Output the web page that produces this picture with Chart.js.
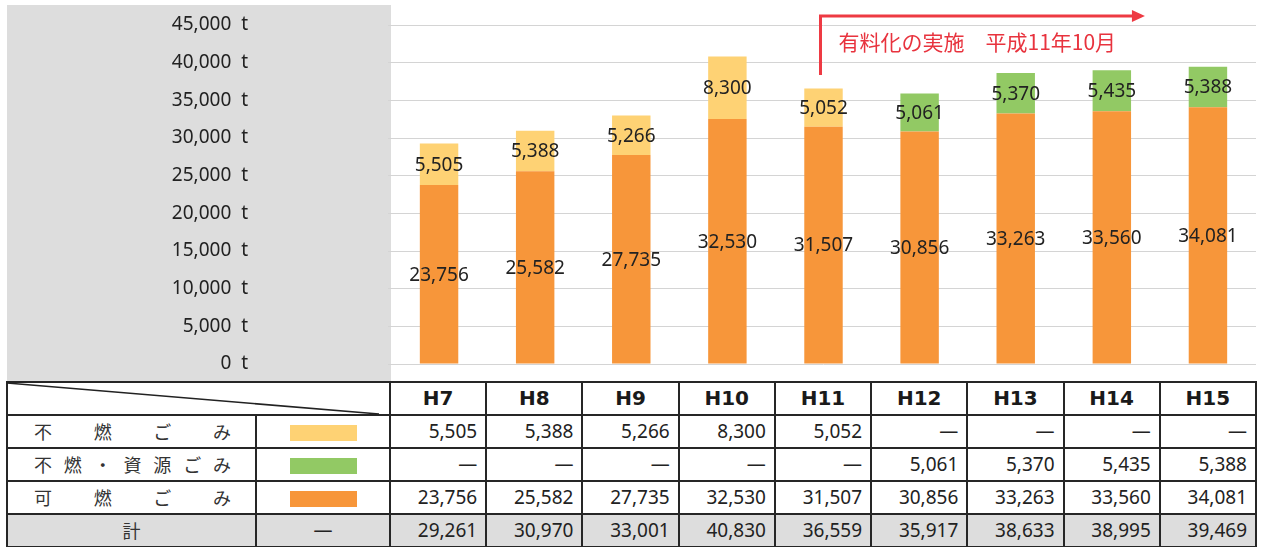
<!DOCTYPE html>
<html>
<head>
<meta charset="utf-8">
<script src="https://cdn.jsdelivr.net/npm/chart.js@4.4.1/dist/chart.umd.min.js"></script>
<style>
  html, body { margin:0; padding:0; background:#ffffff; }
  body { width:1264px; height:547px; position:relative; overflow:hidden; }
  #gray { position:absolute; left:7px; top:5px; width:384px; height:376px; background:#dddddd; }
  #c { position:absolute; left:0; top:0; }
  table { position:absolute; left:6px; top:381px; width:1251px; border-collapse:collapse; table-layout:fixed;
          font-family:'Noto Sans', sans-serif; font-size:19px; color:#222; }
  td { border:2px solid #262626; padding:0; height:31px; line-height:31px; overflow:hidden; white-space:nowrap; }
  td.num { text-align:right; padding-right:8px; }
  td.hdr { text-align:center; font-family:'DejaVu Sans', sans-serif; font-weight:bold; font-size:20px; color:#1a1a1a; }
  td.lab { font-family:'Noto Sans CJK JP', sans-serif; font-size:18px; color:#333; }
  td.lab .sp { display:flex; justify-content:space-between; padding:0 24px 0 26px; }
  td.sw { text-align:center; }
  td.sw span { display:inline-block; width:67px; height:16px; vertical-align:middle; }
  tr.total td { background:#dddddd; }
  td.ctr { text-align:center; }
  #diag { position:absolute; left:7px; top:382px; width:383px; height:33px; pointer-events:none; }
</style>
</head>
<body>
<div id="gray"></div>
<canvas id="c" width="1264" height="380"></canvas>
<table id="tbl"></table>
<svg id="diag" viewBox="0 0 383 33"><line x1="0" y1="1" x2="372" y2="32" stroke="#222" stroke-width="1.6"/></svg>
<script>
const categories = ['H7','H8','H9','H10','H11','H12','H13','H14','H15'];
const nonburnable = [5505, 5388, 5266, 8300, 5052, null, null, null, null];
const nonburnableResource = [null, null, null, null, null, 5061, 5370, 5435, 5388];
const combustible = [23756, 25582, 27735, 32530, 31507, 30856, 33263, 33560, 34081];
const totals = [29261, 30970, 33001, 40830, 36559, 35917, 38633, 38995, 39469];
const seriesLabels = ['不燃ごみ', '不燃・資源ごみ', '可燃ごみ'];
const rowLabels = ['不燃ごみ', '不燃・資源ごみ', '可燃ごみ'];
const totalLabel = '計';
const yMax = 45000;
const yStep = 5000;
const tickUnit = 't';
const annotationText = '有料化の実施　平成11年10月';
const annotationStartIndex = 4;

const colors = { nonburnable:'#fed274', resource:'#92c964', combustible:'#f7963a' };
const fmt = v => v.toLocaleString('en-US');

// Build table
const tbl = document.getElementById('tbl');
let html = '<colgroup><col style="width:249px"><col style="width:134px">' + categories.map(()=>'<col>').join('') + '</colgroup>';
html += '<tr><td colspan="2"></td>' + categories.map(c=>`<td class="hdr">${c}</td>`).join('') + '</tr>';
const rows = [[nonburnable, colors.nonburnable],[nonburnableResource, colors.resource],[combustible, colors.combustible]];
rows.forEach((r,i)=>{
  const chars = Array.from(rowLabels[i]).map(ch=>`<span>${ch}</span>`).join('');
  html += `<tr><td class="lab"><div class="sp">${chars}</div></td><td class="sw"><span style="background:${r[1]}"></span></td>` +
    r[0].map(v=>`<td class="num">${v==null?'—':fmt(v)}</td>`).join('') + '</tr>';
});
html += `<tr class="total"><td class="lab ctr">${totalLabel}</td><td class="ctr">—</td>` + totals.map(v=>`<td class="num">${fmt(v)}</td>`).join('') + '</tr>';
tbl.innerHTML = html;

const labelPlugin = {
  id:'labels',
  afterDatasetsDraw(chart){
    const ctx = chart.ctx;
    ctx.save();
    ctx.font = '19px "Noto Sans"';
    ctx.fillStyle = '#222';
    ctx.textAlign = 'center';
    ctx.textBaseline = 'middle';
    chart.data.datasets.forEach((ds, di)=>{
      const meta = chart.getDatasetMeta(di);
      meta.data.forEach((bar, i)=>{
        const v = ds.data[i];
        if (v == null) return;
        ctx.fillText(fmt(v), bar.x, (bar.y + bar.base)/2 + 1);
      });
    });
    // annotation arrow
    const xs = chart.scales.x, ca = chart.chartArea;
    const x0 = xs.getPixelForValue(annotationStartIndex) - 3;
    const yTop = ca.top - 9;
    const yBot = ca.top + 50;
    const xEnd = xs.getPixelForValue(categories.length - 1) - 63;
    ctx.strokeStyle = '#ee3a43';
    ctx.fillStyle = '#ee3a43';
    ctx.lineWidth = 3;
    ctx.beginPath();
    ctx.moveTo(x0, yBot);
    ctx.lineTo(x0, yTop);
    ctx.lineTo(xEnd - 12, yTop);
    ctx.stroke();
    ctx.beginPath();
    ctx.moveTo(xEnd, yTop);
    ctx.lineTo(xEnd - 13, yTop - 6);
    ctx.lineTo(xEnd - 13, yTop + 6);
    ctx.closePath();
    ctx.fill();
    ctx.font = '21px "Noto Sans CJK JP"';
    ctx.fillStyle = '#e8333e';
    ctx.textAlign = 'left';
    ctx.textBaseline = 'middle';
    ctx.fillText(annotationText, x0 + 18, ca.top + 17);
    ctx.restore();
  }
};

new Chart(document.getElementById('c'), {
  type:'bar',
  data:{
    labels: categories,
    datasets:[
      { label: seriesLabels[2], data: combustible, backgroundColor: colors.combustible },
      { label: seriesLabels[0], data: nonburnable, backgroundColor: colors.nonburnable },
      { label: seriesLabels[1], data: nonburnableResource, backgroundColor: colors.resource }
    ]
  },
  options:{
    responsive:false,
    animation:false,
    devicePixelRatio:1,
    layout:{ padding:{ top:25, bottom:16, right:8, left:0 } },
    plugins:{ legend:{display:false}, tooltip:{enabled:false} },
    datasets:{ bar:{ barPercentage:0.4, categoryPercentage:1.0, borderWidth:0 } },
    scales:{
      x:{ display:false, stacked:true, offset:true },
      y:{
        stacked:true, min:0, max:yMax,
        border:{ display:false },
        grid:{ color:'#d4d4d4', lineWidth:1, drawTicks:true, tickLength:3, tickColor:'#d4d4d4' },
        ticks:{ stepSize:yStep, padding:140, color:'#222', font:{ family:'Noto Sans', size:19 },
                callback:(v)=> fmt(v) + '  ' + tickUnit },
        afterFit(scale){ scale.width = 391; scale.paddingTop = 0; scale.paddingBottom = 0; }
      }
    }
  },
  plugins:[labelPlugin]
});
</script>
</body>
</html>
